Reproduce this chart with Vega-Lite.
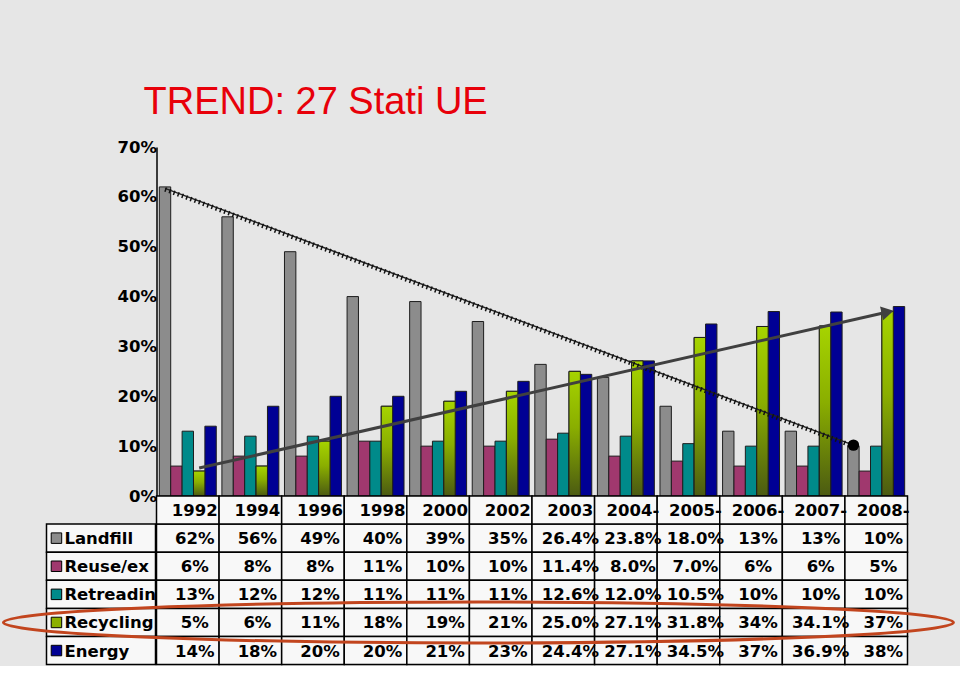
{
  "$schema": "https://vega.github.io/schema/vega-lite/v6.json",
  "background": "#e6e6e6",
  "padding": {"left": -3.5, "top": 84, "right": 0, "bottom": 0},
  "title": {"text": "TREND: 27 Stati UE", "anchor": "start", "frame": "group", "dx": 97, "offset": 17, "font": "Liberation Sans", "fontSize": 38, "fontWeight": "normal", "color": "#e8000a"},
  "config": {"view": {"stroke": null}, "font": "DejaVu Sans"},
  "datasets": {
    "years": [
      {"year": "1992"}, {"year": "1994"}, {"year": "1996"}, {"year": "1998"}, {"year": "2000"}, {"year": "2002"},
      {"year": "2003"}, {"year": "2004-05"}, {"year": "2005-06"}, {"year": "2006-07"}, {"year": "2007-08"}, {"year": "2008-09"}
    ],
    "rows": [
      {"series": "Landfill"}, {"series": "Reuse/export"}, {"series": "Retreading"}, {"series": "Recycling"}, {"series": "Energy"}
    ],
    "trends": [
      {"trend": "landfill", "year": "1992", "series": "Landfill", "value": 0.617},
      {"trend": "landfill", "year": "2008-09", "series": "Landfill", "value": 0.102},
      {"trend": "recycling", "year": "1992", "series": "Recycling", "value": 0.056},
      {"trend": "recycling", "year": "2008-09", "series": "Recycling", "value": 0.369}
    ],
    "tyres": [
      {"year": "1992", "series": "Landfill", "value": 0.62, "label": "62%"},
      {"year": "1994", "series": "Landfill", "value": 0.56, "label": "56%"},
      {"year": "1996", "series": "Landfill", "value": 0.49, "label": "49%"},
      {"year": "1998", "series": "Landfill", "value": 0.40, "label": "40%"},
      {"year": "2000", "series": "Landfill", "value": 0.39, "label": "39%"},
      {"year": "2002", "series": "Landfill", "value": 0.35, "label": "35%"},
      {"year": "2003", "series": "Landfill", "value": 0.264, "label": "26.4%"},
      {"year": "2004-05", "series": "Landfill", "value": 0.238, "label": "23.8%"},
      {"year": "2005-06", "series": "Landfill", "value": 0.18, "label": "18.0%"},
      {"year": "2006-07", "series": "Landfill", "value": 0.13, "label": "13%"},
      {"year": "2007-08", "series": "Landfill", "value": 0.13, "label": "13%"},
      {"year": "2008-09", "series": "Landfill", "value": 0.10, "label": "10%"},
      {"year": "1992", "series": "Reuse/export", "value": 0.06, "label": "6%"},
      {"year": "1994", "series": "Reuse/export", "value": 0.08, "label": "8%"},
      {"year": "1996", "series": "Reuse/export", "value": 0.08, "label": "8%"},
      {"year": "1998", "series": "Reuse/export", "value": 0.11, "label": "11%"},
      {"year": "2000", "series": "Reuse/export", "value": 0.10, "label": "10%"},
      {"year": "2002", "series": "Reuse/export", "value": 0.10, "label": "10%"},
      {"year": "2003", "series": "Reuse/export", "value": 0.114, "label": "11.4%"},
      {"year": "2004-05", "series": "Reuse/export", "value": 0.08, "label": "8.0%"},
      {"year": "2005-06", "series": "Reuse/export", "value": 0.07, "label": "7.0%"},
      {"year": "2006-07", "series": "Reuse/export", "value": 0.06, "label": "6%"},
      {"year": "2007-08", "series": "Reuse/export", "value": 0.06, "label": "6%"},
      {"year": "2008-09", "series": "Reuse/export", "value": 0.05, "label": "5%"},
      {"year": "1992", "series": "Retreading", "value": 0.13, "label": "13%"},
      {"year": "1994", "series": "Retreading", "value": 0.12, "label": "12%"},
      {"year": "1996", "series": "Retreading", "value": 0.12, "label": "12%"},
      {"year": "1998", "series": "Retreading", "value": 0.11, "label": "11%"},
      {"year": "2000", "series": "Retreading", "value": 0.11, "label": "11%"},
      {"year": "2002", "series": "Retreading", "value": 0.11, "label": "11%"},
      {"year": "2003", "series": "Retreading", "value": 0.126, "label": "12.6%"},
      {"year": "2004-05", "series": "Retreading", "value": 0.12, "label": "12.0%"},
      {"year": "2005-06", "series": "Retreading", "value": 0.105, "label": "10.5%"},
      {"year": "2006-07", "series": "Retreading", "value": 0.10, "label": "10%"},
      {"year": "2007-08", "series": "Retreading", "value": 0.10, "label": "10%"},
      {"year": "2008-09", "series": "Retreading", "value": 0.10, "label": "10%"},
      {"year": "1992", "series": "Recycling", "value": 0.05, "label": "5%"},
      {"year": "1994", "series": "Recycling", "value": 0.06, "label": "6%"},
      {"year": "1996", "series": "Recycling", "value": 0.11, "label": "11%"},
      {"year": "1998", "series": "Recycling", "value": 0.18, "label": "18%"},
      {"year": "2000", "series": "Recycling", "value": 0.19, "label": "19%"},
      {"year": "2002", "series": "Recycling", "value": 0.21, "label": "21%"},
      {"year": "2003", "series": "Recycling", "value": 0.25, "label": "25.0%"},
      {"year": "2004-05", "series": "Recycling", "value": 0.271, "label": "27.1%"},
      {"year": "2005-06", "series": "Recycling", "value": 0.318, "label": "31.8%"},
      {"year": "2006-07", "series": "Recycling", "value": 0.34, "label": "34%"},
      {"year": "2007-08", "series": "Recycling", "value": 0.341, "label": "34.1%"},
      {"year": "2008-09", "series": "Recycling", "value": 0.37, "label": "37%"},
      {"year": "1992", "series": "Energy", "value": 0.14, "label": "14%"},
      {"year": "1994", "series": "Energy", "value": 0.18, "label": "18%"},
      {"year": "1996", "series": "Energy", "value": 0.20, "label": "20%"},
      {"year": "1998", "series": "Energy", "value": 0.20, "label": "20%"},
      {"year": "2000", "series": "Energy", "value": 0.21, "label": "21%"},
      {"year": "2002", "series": "Energy", "value": 0.23, "label": "23%"},
      {"year": "2003", "series": "Energy", "value": 0.244, "label": "24.4%"},
      {"year": "2004-05", "series": "Energy", "value": 0.271, "label": "27.1%"},
      {"year": "2005-06", "series": "Energy", "value": 0.345, "label": "34.5%"},
      {"year": "2006-07", "series": "Energy", "value": 0.37, "label": "37%"},
      {"year": "2007-08", "series": "Energy", "value": 0.369, "label": "36.9%"},
      {"year": "2008-09", "series": "Energy", "value": 0.38, "label": "38%"}
    ]
  },
  "columns": 2,
  "spacing": 0,
  "align": "each",
  "bounds": "flush",
  "concat": [
    {
      "width": 109.5,
      "height": 349,
      "data": {"values": [{"t": ""}]},
      "mark": {"type": "text"},
      "encoding": {"text": {"field": "t", "type": "nominal"}}
    },
    {
      "width": 751,
      "height": 349,
      "layer": [
        {
          "data": {"name": "tyres"},
          "mark": {"type": "bar", "stroke": "#1e1e1e", "strokeWidth": 1},
          "encoding": {
            "x": {"field": "year", "type": "nominal",
                  "scale": {"domain": ["1992","1994","1996","1998","2000","2002","2003","2004-05","2005-06","2006-07","2007-08","2008-09"], "paddingInner": 0.09, "paddingOuter": 0.045},
                  "axis": {"title": null, "labels": false, "ticks": false, "domainColor": "#000000", "domainWidth": 1.5}},
            "xOffset": {"field": "series", "type": "nominal", "scale": {"domain": ["Landfill","Reuse/export","Retreading","Recycling","Energy"]}},
            "y": {"field": "value", "type": "quantitative",
                  "scale": {"domain": [0, 0.7], "nice": false},
                  "axis": {"title": null, "values": [0, 0.1, 0.2, 0.3, 0.4, 0.5, 0.6, 0.7], "format": ".0%", "grid": false, "ticks": false, "labelPadding": 0,
                           "labelFont": "DejaVu Sans", "labelFontSize": 16.5, "labelFontWeight": "bold", "labelColor": "#000000",
                           "domainColor": "#000000", "domainWidth": 1.5}},
            "color": {"field": "series", "type": "nominal",
                      "scale": {"domain": ["Landfill","Reuse/export","Retreading","Recycling","Energy"], "range": ["#8c8c8c", "#a0386e", "#008a8a", "#8cb000", "#000094"]},
                      "legend": null}
          }
        },
        {
          "data": {"name": "tyres"},
          "transform": [{"filter": "datum.series === 'Recycling'"}],
          "mark": {"type": "bar", "stroke": "#1e1e1e", "strokeWidth": 1,
                   "color": {"gradient": "linear", "x1": 0, "y1": 0, "x2": 0, "y2": 1,
                             "stops": [{"offset": 0, "color": "#a6d400"}, {"offset": 0.45, "color": "#8aae00"}, {"offset": 1, "color": "#4b5a12"}]}},
          "encoding": {
            "x": {"field": "year", "type": "nominal"},
            "xOffset": {"field": "series", "type": "nominal"},
            "y": {"field": "value", "type": "quantitative"}
          }
        },
        {
          "data": {"name": "trends"},
          "transform": [{"filter": "datum.trend === 'landfill'"}],
          "mark": {"type": "line", "color": "#222222", "strokeWidth": 1.5},
          "encoding": {
            "x": {"field": "year", "type": "nominal"},
            "xOffset": {"field": "series", "type": "nominal"},
            "y": {"field": "value", "type": "quantitative"}
          }
        },
        {
          "data": {"name": "trends"},
          "transform": [{"filter": "datum.trend === 'landfill'"}],
          "mark": {"type": "line", "color": "#111111", "strokeWidth": 4.5, "strokeDash": [1.5, 3], "yOffset": 1},
          "encoding": {
            "x": {"field": "year", "type": "nominal"},
            "xOffset": {"field": "series", "type": "nominal"},
            "y": {"field": "value", "type": "quantitative"}
          }
        },
        {
          "data": {"name": "trends"},
          "transform": [{"filter": "datum.trend === 'recycling'"}],
          "mark": {"type": "line", "color": "#404040", "strokeWidth": 3},
          "encoding": {
            "x": {"field": "year", "type": "nominal"},
            "xOffset": {"field": "series", "type": "nominal"},
            "y": {"field": "value", "type": "quantitative"}
          }
        },
        {
          "data": {"name": "trends"},
          "transform": [{"filter": "datum.trend === 'landfill' && datum.year === '2008-09'"}],
          "mark": {"type": "point", "filled": true, "color": "#000000", "size": 130, "opacity": 1},
          "encoding": {
            "x": {"field": "year", "type": "nominal"},
            "xOffset": {"field": "series", "type": "nominal"},
            "y": {"field": "value", "type": "quantitative"}
          }
        },
        {
          "data": {"name": "trends"},
          "transform": [{"filter": "datum.trend === 'recycling' && datum.year === '2008-09'"}],
          "mark": {"type": "point", "shape": "triangle-right", "filled": true, "color": "#404040", "size": 200, "angle": 347, "opacity": 1},
          "encoding": {
            "x": {"field": "year", "type": "nominal"},
            "xOffset": {"field": "series", "type": "nominal"},
            "y": {"field": "value", "type": "quantitative"}
          }
        }
      ]
    },
    {
      "width": 109.5,
      "height": 168.6,
      "data": {"name": "rows"},
      "layer": [
        {
          "mark": {"type": "rect", "fill": "#f8f8f8", "stroke": "#000000", "strokeWidth": 1.5},
          "encoding": {
            "x": {"datum": 0, "type": "quantitative", "scale": {"domain": [0, 109.5]}, "axis": null},
            "x2": {"datum": 109.5},
            "y": {"field": "series", "type": "nominal", "scale": {"domain": ["Anno","Landfill","Reuse/export","Retreading","Recycling","Energy"], "paddingInner": 0, "paddingOuter": 0}, "axis": null}
          }
        },
        {
          "mark": {"type": "point", "shape": "square", "filled": true, "size": 110, "stroke": "#000000", "strokeWidth": 1, "opacity": 1},
          "encoding": {
            "x": {"datum": 10, "type": "quantitative"},
            "y": {"field": "series", "type": "nominal"},
            "color": {"field": "series", "type": "nominal", "legend": null}
          }
        },
        {
          "mark": {"type": "text", "align": "left", "baseline": "middle", "limit": 95, "ellipsis": "\u200b", "font": "DejaVu Sans", "fontSize": 16.5, "fontWeight": "bold", "color": "#000000", "dy": 1},
          "encoding": {
            "x": {"datum": 18, "type": "quantitative"},
            "y": {"field": "series", "type": "nominal"},
            "text": {"field": "series", "type": "nominal"}
          }
        }
      ]
    },
    {
      "width": 751,
      "height": 168.6,
      "layer": [
        {
          "data": {"name": "tyres"},
          "mark": {"type": "rect", "fill": "#f8f8f8", "stroke": "#000000", "strokeWidth": 1.5},
          "encoding": {
            "x": {"field": "year", "type": "nominal", "scale": {"domain": ["1992","1994","1996","1998","2000","2002","2003","2004-05","2005-06","2006-07","2007-08","2008-09"], "paddingInner": 0, "paddingOuter": 0}, "axis": null},
            "y": {"field": "series", "type": "nominal", "scale": {"domain": ["Anno","Landfill","Reuse/export","Retreading","Recycling","Energy"], "paddingInner": 0, "paddingOuter": 0}, "axis": null}
          }
        },
        {
          "data": {"name": "years"},
          "mark": {"type": "rect", "fill": "#f8f8f8", "stroke": "#000000", "strokeWidth": 1.5},
          "encoding": {
            "x": {"field": "year", "type": "nominal"},
            "y": {"datum": "Anno", "type": "nominal"}
          }
        },
        {
          "data": {"name": "tyres"},
          "mark": {"type": "text", "align": "center", "baseline": "middle", "dx": 7, "dy": 1, "font": "DejaVu Sans", "fontSize": 16.5, "fontWeight": "bold", "color": "#000000"},
          "encoding": {
            "x": {"field": "year", "type": "nominal"},
            "y": {"field": "series", "type": "nominal"},
            "text": {"field": "label", "type": "nominal"}
          }
        },
        {
          "data": {"name": "years"},
          "mark": {"type": "text", "align": "center", "baseline": "middle", "dx": 7, "dy": 1, "limit": 58, "ellipsis": "\u200b", "font": "DejaVu Sans", "fontSize": 16.5, "fontWeight": "bold", "color": "#000000"},
          "encoding": {
            "x": {"field": "year", "type": "nominal"},
            "y": {"datum": "Anno", "type": "nominal"},
            "text": {"field": "year", "type": "nominal"}
          }
        },
        {
          "data": {"name": "rows"},
          "transform": [{"filter": "datum.series === 'Recycling'"}],
          "mark": {"type": "point", "shape": "M-0.981,0A1,0.0432,0,1,0,1.019,0A1,0.0432,0,1,0,-0.981,0Z", "size": 902500, "filled": false, "stroke": "#c2451e", "strokeWidth": 3, "opacity": 1},
          "encoding": {
            "x": {"datum": "2002", "type": "nominal", "bandPosition": 0},
            "y": {"field": "series", "type": "nominal"}
          }
        }
      ]
    }
  ]
}
